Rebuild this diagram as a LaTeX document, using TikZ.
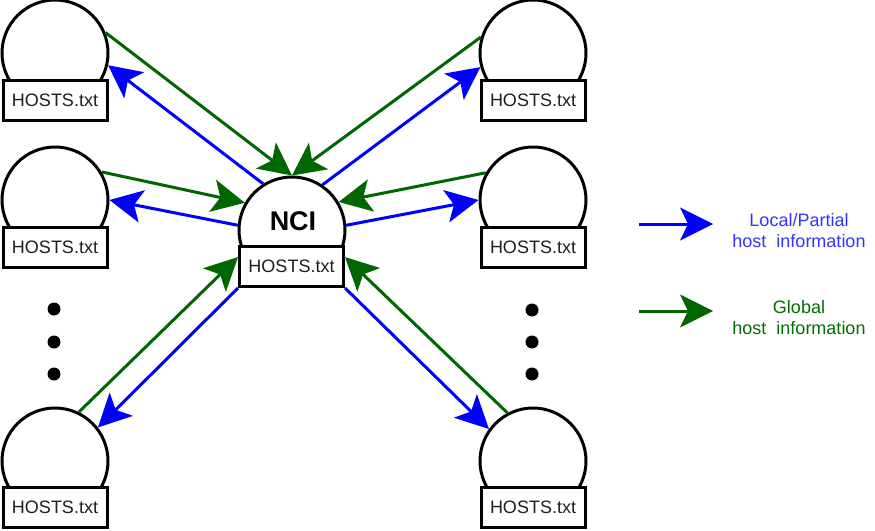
\documentclass[tikz,border=0pt]{standalone}
\usepackage{fontspec}
\setmainfont{Liberation Sans}
\usetikzlibrary{arrows.meta}
\definecolor{ablue}{RGB}{0,0,255}
\definecolor{agreen}{RGB}{0,102,0}
\definecolor{tblue}{RGB}{51,51,255}
\definecolor{tgreen}{RGB}{0,110,0}
\definecolor{tgrey}{RGB}{30,30,30}
\tikzset{
  hostc/.style={circle, draw=black, line width=3pt, fill=white, minimum size=106pt, inner sep=0pt},
  hostr/.style={draw=black, line width=3pt, fill=white, minimum width=104pt, minimum height=40pt, inner sep=0pt,
    font=\fontsize{18}{21}\selectfont, text=tgrey},
  tip/.style={-{Stealth[length=33pt,width=33pt,inset=8pt,line width=0pt]}},
  barrow/.style={tip, draw=ablue, line width=3pt},
  garrow/.style={tip, draw=agreen, line width=3pt},
  dotn/.style={circle, fill=black, minimum size=13pt, inner sep=0pt},
  legtext/.style={align=center, font=\fontsize{18}{21}\selectfont},
}
\begin{document}
\begin{tikzpicture}[x=1pt, y=-1pt]
\useasboundingbox (0,0) rectangle (875,530);
% hosts
\node[hostc] (TL) at (55,53) {};
\node[hostr] (TLr) at (55,100) {HOSTS.txt};
\node[hostc] (ML) at (55,200) {};
\node[hostr] (MLr) at (55,247.5) {HOSTS.txt};
\node[hostc] (BL) at (55,461) {};
\node[hostr] (BLr) at (55,507.5) {HOSTS.txt};
\node[hostc] (TR) at (533,53) {};
\node[hostr] (TRr) at (533,100) {HOSTS.txt};
\node[hostc] (MR) at (533,200) {};
\node[hostr] (MRr) at (533,247.5) {HOSTS.txt};
\node[hostc] (BR) at (533,461) {};
\node[hostr] (BRr) at (533,507.5) {HOSTS.txt};
% NCI
\node[hostc] (NCI) at (292,230) {};
\node[font=\fontsize{27}{30}\selectfont\bfseries] (NCIt) at (293,221) {NCI};
\node[hostr] (NCIr) at (291.5,266.5) {HOSTS.txt};
% dots
\node[dotn] (d1) at (54,309) {};
\node[dotn] (d2) at (54,342) {};
\node[dotn] (d3) at (54,374) {};
\node[dotn] (d4) at (532,310) {};
\node[dotn] (d5) at (532,342) {};
\node[dotn] (d6) at (532,374) {};
% top-left
\draw[garrow] (TL.22) -- (NCI.north);
\draw[barrow] (NCI.122) -- (TL.-13);
% mid-left
\draw[garrow] (ML.31) -- (NCI.150);
\draw[barrow] (NCI.175) -- (ML.0);
% bottom-left
\draw[garrow] (BL.64) -- (NCIr.170);
\draw[barrow] (NCIr.south west) -- (BL.38);
% top-right
\draw[garrow] (TR.163) -- (NCI.north);
\draw[barrow] (NCI.56) -- (TR.195);
% mid-right
\draw[garrow] (MR.150) -- (NCI.31);
\draw[barrow] (NCI.5) -- (MR.180);
% bottom-right
\draw[garrow] (BR.118) -- (NCIr.10);
\draw[barrow] (NCIr.south east) -- (BR.144);
% legend
\coordinate (lb1) at (639,224);
\coordinate (lb2) at (713,224);
\coordinate (lg1) at (639,311);
\coordinate (lg2) at (713,311);
\draw[barrow] (lb1) -- (lb2);
\draw[garrow] (lg1) -- (lg2);
\node[legtext, text=tblue] (lbt) at (799,231) {Local/Partial\\host\ \ information};
\node[legtext, text=tgreen] (lgt) at (799,318) {Global\\host\ \ information};
\end{tikzpicture}
\end{document}
